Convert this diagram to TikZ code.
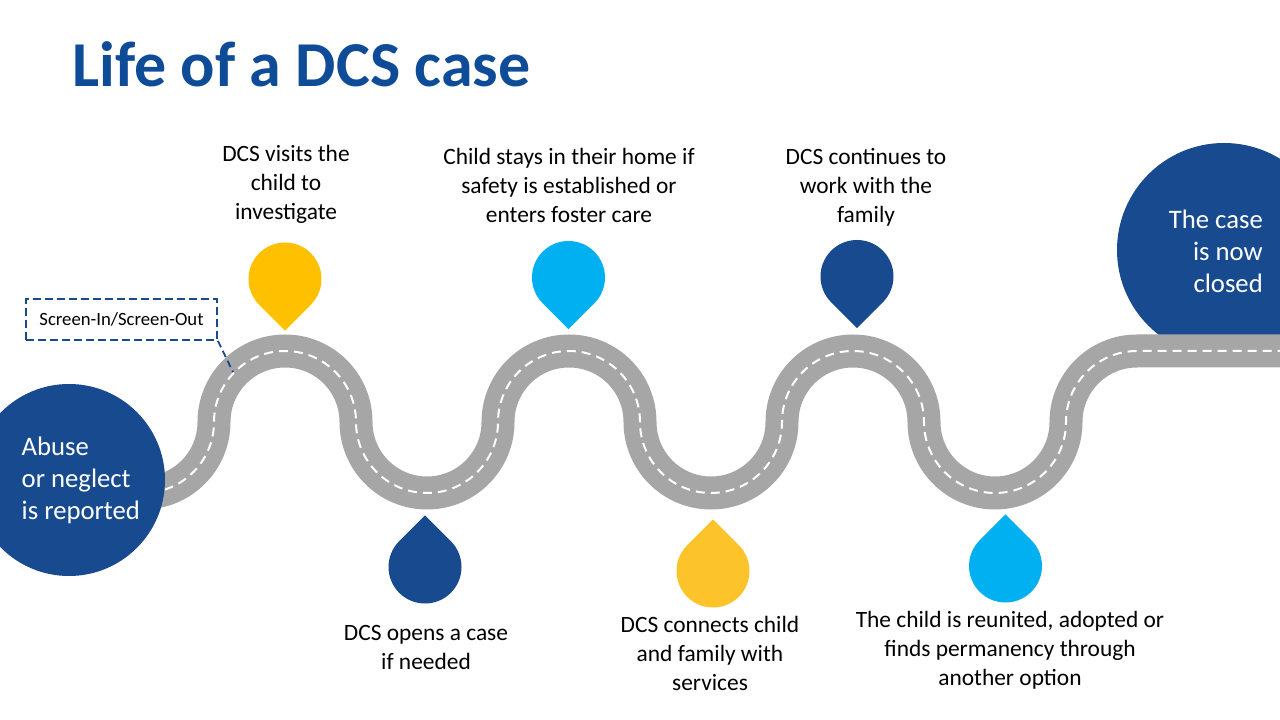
\documentclass[tikz,border=0pt]{standalone}
\usepackage{fontspec}
\setmainfont{Carlito}
\definecolor{dblue}{HTML}{174A8E}
\definecolor{tblue}{HTML}{0F4C97}
\definecolor{lblue}{HTML}{00B0F0}
\definecolor{yelA}{HTML}{FFC000}
\definecolor{yelB}{HTML}{FCC32A}
\definecolor{roadgray}{HTML}{A6A6A6}
\tikzset{
  pindown/.pic={\path[pic actions] (0,-51.6) -- ++(25.8,25.8) arc[start angle=-45,end angle=225,radius=36.5] -- cycle;},
  pinup/.pic={\path[pic actions] (0,51.6) -- ++(-25.8,-25.8) arc[start angle=135,end angle=405,radius=36.5] -- cycle;},
  lbl/.style={font=\fontsize{23.4}{29}\selectfont, align=center, inner sep=0pt, anchor=north, text=black},
  bigtxt/.style={font=\fontsize{26.7}{32}\selectfont, inner sep=0pt, text=white},
  road/.style={line width=33pt, draw=roadgray, postaction={draw=white, line width=2pt, dash pattern=on 9pt off 6pt}},
  bubble/.style={circle, fill=dblue, inner sep=0pt},
}
\begin{document}
\begin{tikzpicture}[x=1pt,y=1pt]
\useasboundingbox (0,0) rectangle (1280,720);
\clip (0,0) rectangle (1280,720);
% title
\node[anchor=base west, inner sep=0pt, text=tblue, font=\fontsize{64}{70}\selectfont\bfseries] (title) at (72,633) {Life of a DCS case};
% end bubble (under the road)
\node[bubble, minimum size=214pt] (endc) at (1224,470) {};
% road
\path[road] (90,227) -- (143,227)
  arc[start angle=270,end angle=360,radius=71]
  arc[start angle=180,end angle=0,radius=71]
  arc[start angle=180,end angle=360,radius=71]
  arc[start angle=180,end angle=0,radius=71]
  arc[start angle=180,end angle=360,radius=71]
  arc[start angle=180,end angle=0,radius=71]
  arc[start angle=180,end angle=360,radius=71]
  arc[start angle=180,end angle=90,radius=71]
  -- (1300,369);
% start bubble (over the road)
\node[bubble, minimum size=192pt] (startc) at (69,240) {};
\node[bigtxt, align=left, anchor=north west] (starttxt) at (21.5,287) {\rule{0pt}{22pt}Abuse\\or neglect\\is reported};
\node[bigtxt, align=right, anchor=north east] (endtxt) at (1263,514) {\rule{0pt}{22pt}The case\\is now\\closed};
% screen box
\node[draw=dblue, dash pattern=on 8pt off 4pt, line width=1.8pt, minimum width=191pt, minimum height=41pt, inner sep=0pt, font=\fontsize{18.7}{22}\selectfont] (screen) at (121.5,400.5) {Screen-In/Screen-Out};
\coordinate (roadpt) at (233,348);
\draw[dblue, dash pattern=on 7pt off 4pt, line width=1.8pt] (screen.south east) -- (roadpt);
% pins
\pic[fill=yelA] (p1) at (285,441) {pindown};
\pic[fill=lblue] (p2) at (568.5,442.5) {pindown};
\pic[fill=dblue] (p3) at (857,443.5) {pindown};
\pic[fill=dblue] (b1) at (425,153) {pinup};
\pic[fill=yelB] (b2) at (713,149) {pinup};
\pic[fill=lblue] (b3) at (1005.5,154) {pinup};
% labels
\node[lbl] (l1) at (286,578.5) {\rule{0pt}{20pt}DCS visits the\\child to\\investigate};
\node[lbl] (l2) at (569,576) {\rule{0pt}{20pt}Child stays in their home if\\safety is established or\\enters foster care};
\node[lbl] (l3) at (866,576) {\rule{0pt}{20pt}DCS continues to\\work with the\\family};
\node[lbl] (m1) at (426,100) {\rule{0pt}{20pt}DCS opens a case\\if needed};
\node[lbl] (m2) at (710,108) {\rule{0pt}{20pt}DCS connects child\\and family with\\services};
\node[lbl] (m3) at (1010,113) {\rule{0pt}{20pt}The child is reunited, adopted or\\finds permanency through\\another option};
\end{tikzpicture}
\end{document}
